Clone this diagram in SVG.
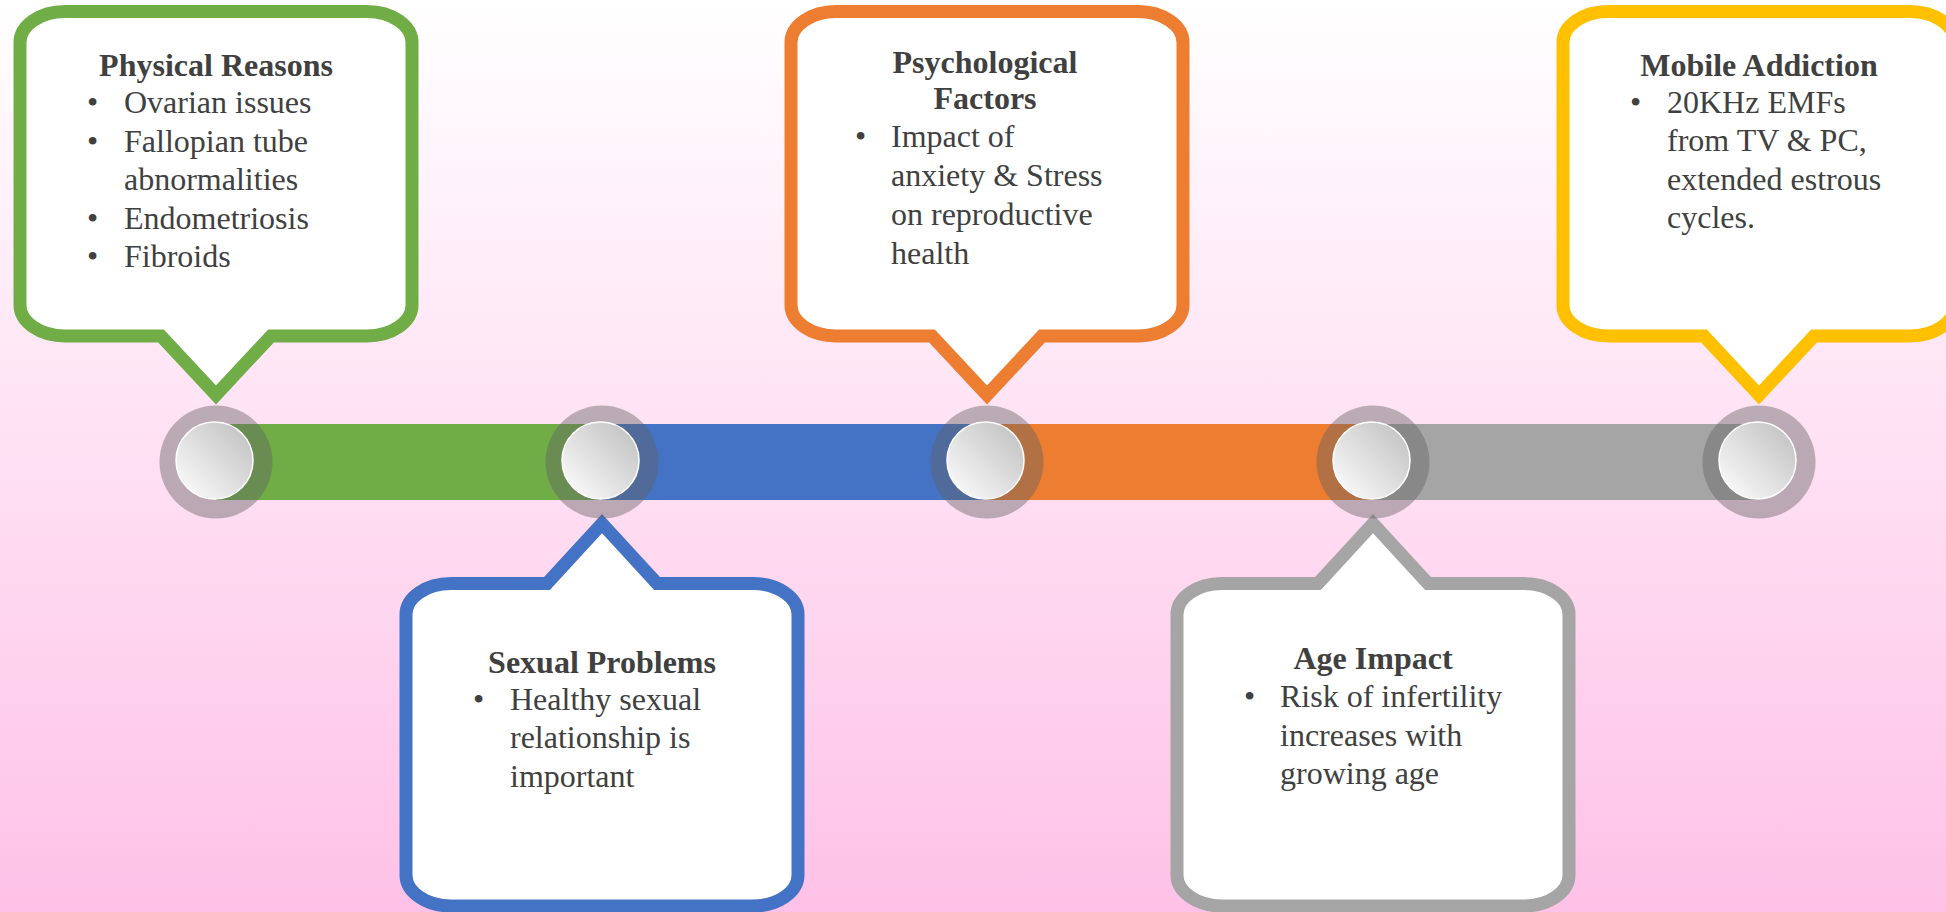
<svg xmlns="http://www.w3.org/2000/svg" width="1946" height="912" viewBox="0 0 1946 912">
  <defs>
    <linearGradient id="bg" x1="0" y1="0" x2="0" y2="1">
      <stop offset="0" stop-color="#FFFFFF"/>
      <stop offset="1" stop-color="#FEC1E7"/>
    </linearGradient>
    <linearGradient id="knob" x1="1" y1="0" x2="0" y2="1">
      <stop offset="0" stop-color="#BDBDBD"/>
      <stop offset="1" stop-color="#FFFFFF"/>
    </linearGradient>
    <style>
      .box { fill: #FFFFFF; stroke-width: 13; stroke-linejoin: miter; stroke-miterlimit: 10; }
      .t { font-family: "Liberation Serif", "Times New Roman", serif; font-size: 32px; fill: #404040; }
      .title { font-weight: bold; text-anchor: middle; }
      .halo { fill: #626262; fill-opacity: 0.43; }
      .knob { fill: url(#knob); stroke: #FFFFFF; stroke-width: 1.5; }
    </style>
  </defs>

  <rect x="0" y="0" width="1946" height="912" fill="url(#bg)"/>

  <g id="connectors">
    <rect x="216" y="424" width="386" height="76" fill="#70AD47"/>
    <rect x="602" y="424" width="385" height="76" fill="#4472C4"/>
    <rect x="987" y="424" width="386" height="76" fill="#ED7D31"/>
    <rect x="1373" y="424" width="386" height="76" fill="#A5A5A5"/>
  </g>

  <g id="node-physical" transform="translate(216,0)">
    <path class="box" stroke="#70AD47" d="M -151,11.5 H 151 A 45 31 0 0 1 196,42.5 V 305 A 45 31 0 0 1 151,336 H 55 L 0,395 L -55,336 H -151 A 45 31 0 0 1 -196,305 V 42.5 A 45 31 0 0 1 -151,11.5 Z"/>
    <text class="t title" x="0" y="76">Physical Reasons</text>
    <text class="t" x="-129" y="113">•</text><text class="t" x="-92" y="113">Ovarian issues</text>
    <text class="t" x="-129" y="151.5">•</text><text class="t" x="-92" y="151.5">Fallopian tube</text>
    <text class="t" x="-92" y="190">abnormalities</text>
    <text class="t" x="-129" y="228.5">•</text><text class="t" x="-92" y="228.5">Endometriosis</text>
    <text class="t" x="-129" y="267">•</text><text class="t" x="-92" y="267">Fibroids</text>
    <circle class="halo" cx="0" cy="462" r="56.5"/>
    <circle class="knob" cx="-1.5" cy="460.5" r="38.5"/>
  </g>

  <g id="node-sexual" transform="translate(602,0)">
    <path class="box" stroke="#4472C4" d="M -151,583.5 H -55 L 0,523.5 L 55,583.5 H 151 A 45 31 0 0 1 196,614.5 V 875 A 45 31 0 0 1 151,906 H -151 A 45 31 0 0 1 -196,875 V 614.5 A 45 31 0 0 1 -151,583.5 Z"/>
    <text class="t title" x="0" y="673">Sexual Problems</text>
    <text class="t" x="-129" y="710">•</text><text class="t" x="-92" y="710">Healthy sexual</text>
    <text class="t" x="-92" y="748">relationship is</text>
    <text class="t" x="-92" y="787">important</text>
    <circle class="halo" cx="0" cy="462" r="56.5"/>
    <circle class="knob" cx="-1.5" cy="460.5" r="38.5"/>
  </g>

  <g id="node-psychological" transform="translate(987,0)">
    <path class="box" stroke="#ED7D31" d="M -151,11.5 H 151 A 45 31 0 0 1 196,42.5 V 305 A 45 31 0 0 1 151,336 H 55 L 0,395 L -55,336 H -151 A 45 31 0 0 1 -196,305 V 42.5 A 45 31 0 0 1 -151,11.5 Z"/>
    <text class="t title" x="-2" y="73">Psychological</text>
    <text class="t title" x="-2" y="109">Factors</text>
    <text class="t" x="-132" y="147">•</text><text class="t" x="-96" y="147">Impact of</text>
    <text class="t" x="-96" y="186">anxiety &amp; Stress</text>
    <text class="t" x="-96" y="225">on reproductive</text>
    <text class="t" x="-96" y="264">health</text>
    <circle class="halo" cx="0" cy="462" r="56.5"/>
    <circle class="knob" cx="-1.5" cy="460.5" r="38.5"/>
  </g>

  <g id="node-age" transform="translate(1373,0)">
    <path class="box" stroke="#A5A5A5" d="M -151,583.5 H -55 L 0,523.5 L 55,583.5 H 151 A 45 31 0 0 1 196,614.5 V 875 A 45 31 0 0 1 151,906 H -151 A 45 31 0 0 1 -196,875 V 614.5 A 45 31 0 0 1 -151,583.5 Z"/>
    <text class="t title" x="0" y="669">Age Impact</text>
    <text class="t" x="-129" y="707">•</text><text class="t" x="-93" y="707">Risk of infertility</text>
    <text class="t" x="-93" y="746">increases with</text>
    <text class="t" x="-93" y="784">growing age</text>
    <circle class="halo" cx="0" cy="462" r="56.5"/>
    <circle class="knob" cx="-1.5" cy="460.5" r="38.5"/>
  </g>

  <g id="node-mobile" transform="translate(1759,0)">
    <path class="box" stroke="#FFC000" d="M -151,11.5 H 151 A 45 31 0 0 1 196,42.5 V 305 A 45 31 0 0 1 151,336 H 55 L 0,395 L -55,336 H -151 A 45 31 0 0 1 -196,305 V 42.5 A 45 31 0 0 1 -151,11.5 Z"/>
    <text class="t title" x="0" y="76">Mobile Addiction</text>
    <text class="t" x="-129" y="113">•</text><text class="t" x="-92" y="113">20KHz EMFs</text>
    <text class="t" x="-92" y="151">from TV &amp; PC,</text>
    <text class="t" x="-92" y="190">extended estrous</text>
    <text class="t" x="-92" y="228">cycles.</text>
    <circle class="halo" cx="0" cy="462" r="56.5"/>
    <circle class="knob" cx="-1.5" cy="460.5" r="38.5"/>
  </g>
</svg>
